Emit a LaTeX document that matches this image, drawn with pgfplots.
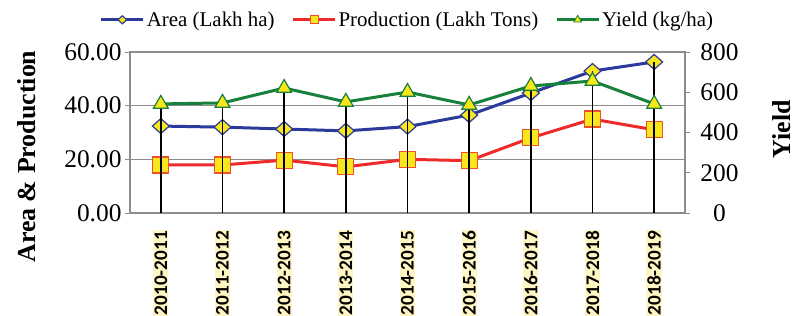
\documentclass[border=0pt]{standalone}
\usepackage{pgfplots}
\pgfplotsset{compat=1.18}
\usepackage{fontspec}
\setmainfont{Liberation Serif}
\newfontfamily\carlito{Carlito}
\definecolor{areablue}{HTML}{2B3A9C}
\definecolor{prodred}{HTML}{EE2B2B}
\definecolor{prodedge}{HTML}{F0502A}
\definecolor{yieldgreen}{HTML}{17803A}
\definecolor{mkyellow}{HTML}{F7E71C}
\definecolor{lblbg}{HTML}{FFF6C4}
\definecolor{axgray}{HTML}{8C8C8C}
\pgfplotsset{
  common/.style={
    at={(0,0)}, anchor=south west, scale only axis,
    width=555bp, height=161bp,
    xmin=-0.5, xmax=8.5,
    /pgf/number format/assume math mode=true,
    tick align=outside, major tick length=5bp,
    every tick/.style={axgray, line width=1bp},
    axis line style={axgray, line width=1.3bp},
    tick label style={font=\fontsize{25.5}{28}\selectfont},
  },
  legimg/.style={legend image code/.code={\draw[mark repeat=2,mark phase=2,##1,mark size=#1] plot coordinates {(0bp,0bp) (21bp,0bp) (42bp,0bp)};}},
}
\begin{document}
\begin{tikzpicture}
\path[use as bounding box] (-130bp,-103bp) rectangle (669bp,213bp);
\begin{axis}[common,
  ymin=0, ymax=60,
  ytick={0,20,40,60}, ytick pos=left,
  yticklabel style={/pgf/number format/.cd, fixed, fixed zerofill, precision=2},
  xtick={0,...,8},
  xticklabels={2010-2011,2011-2012,2012-2013,2013-2014,2014-2015,2015-2016,2016-2017,2017-2018,2018-2019},
  major x tick style={draw=none},
  xticklabel style={rotate=90, anchor=east, xshift=-12bp, fill=lblbg, inner sep=1bp, font=\carlito\bfseries\fontsize{19.3}{21}\selectfont},
  ymajorgrids, grid style={axgray, line width=1.2bp},
  ylabel={Area \& Production},
  ylabel style={at={(axis description cs:-0.1856,0.35)}, anchor=center, font=\bfseries\fontsize{26}{28}\selectfont},
  legend columns=3,
  legend style={at={(0.5,1)}, anchor=south, yshift=20bp, draw=none, fill=none,
    font=\fontsize{21}{24}\selectfont,
    /tikz/every odd column/.append style={column sep=0bp},
    /tikz/every even column/.append style={column sep=15bp}},
  legend cell align=left,
]
\addplot[areablue, line width=3bp, mark=diamond*, mark size=7.5bp,
  mark options={fill=mkyellow, draw=areablue, line width=1.2bp, xscale=1.5}, legimg=4bp]
  coordinates {(0,32.4) (1,32.0) (2,31.3) (3,30.6) (4,32.2) (5,36.5) (6,44.7) (7,52.9) (8,56.3)};
\addlegendentry{Area (Lakh ha)}
\addplot[prodred, line width=3bp, mark=square*, mark size=8bp,
  mark options={fill=mkyellow, draw=prodedge, line width=1.2bp}, legimg=4bp]
  coordinates {(0,17.9) (1,17.9) (2,19.7) (3,17.2) (4,20.0) (5,19.5) (6,28.0) (7,35.0) (8,31.0)};
\addlegendentry{Production (Lakh Tons)}
\addlegendimage{yieldgreen, line width=3bp, mark=triangle*, mark options={fill=mkyellow, draw=yieldgreen, line width=0.8bp}, legimg=4.5bp}
\addlegendentry{Yield (kg/ha)}
\end{axis}
\begin{axis}[common,
  ymin=0, ymax=800,
  axis x line=none, axis y line*=right,
  ytick={0,200,400,600,800},
  yticklabel style={xshift=6bp, text width=40bp, align=center},
  ylabel={Yield},
  ylabel style={at={(axis description cs:1.175,0.52)}, anchor=center, font=\bfseries\fontsize{26}{28}\selectfont},
]
\addplot[yieldgreen, line width=3bp, mark=triangle*, mark size=8.5bp,
  mark options={fill=mkyellow, draw=yieldgreen, line width=1.2bp}]
  coordinates {(0,542) (1,547) (2,621) (3,552) (4,601) (5,537) (6,631) (7,656) (8,542)};
\addplot[ycomb, black, line width=1.4bp, no marks]
  coordinates {(0,542) (1,547) (2,621) (3,552) (4,601) (5,537) (6,631) (7,705) (8,751)};
\end{axis}
\end{tikzpicture}
\end{document}
